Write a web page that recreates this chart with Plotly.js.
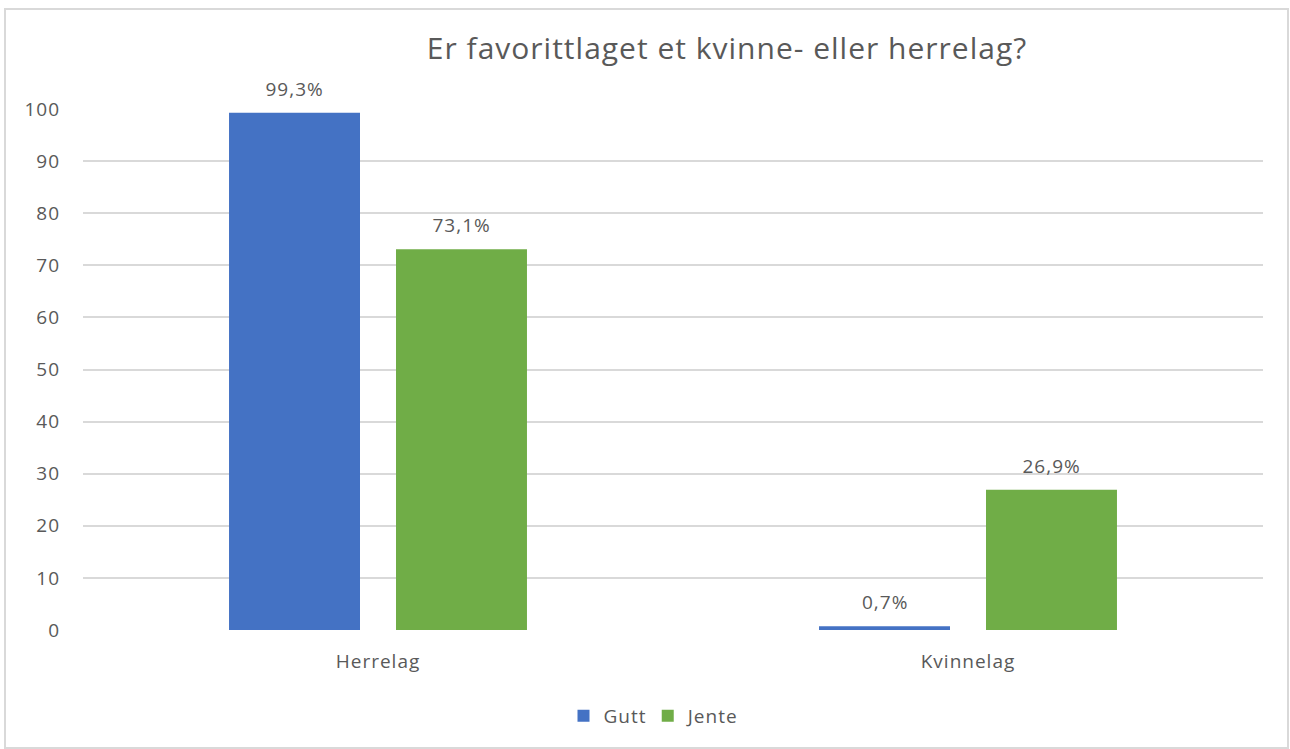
<!DOCTYPE html>
<html>
<head>
<meta charset="utf-8">
<script src="https://cdn.plot.ly/plotly-3.0.1.min.js"></script>
<style>html,body{margin:0;padding:0;background:#fff;}#chart{width:1290px;height:749px;}
#chart text{letter-spacing:1px;}</style>
</head>
<body>
<div id="chart"></div>
<script>
const categories = ["Herrelag", "Kvinnelag"];
const gutt = [99.3, 0.7];
const jente = [73.1, 26.9];
const guttLabels = ["99,3%", "0,7%"];
const jenteLabels = ["73,1%", "26,9%"];
const yTicks = [0, 10, 20, 30, 40, 50, 60, 70, 80, 90, 100];

const fontFam = "'Open Sans', sans-serif";
const txtCol = "#595959";

const traces = [
  {type: "bar", name: "Gutt", x: categories, y: gutt,
   marker: {color: "#4472C4"}, hoverinfo: "none"},
  {type: "bar", name: "Jente", x: categories, y: jente,
   marker: {color: "#70AD47"}, hoverinfo: "none"}
];

const annotations = [];
categories.forEach((c, i) => {
  annotations.push({x: c, y: gutt[i], xref: "x", yref: "y", text: guttLabels[i],
    showarrow: false, xshift: -83.5, yshift: 24, yanchor: "middle",
    font: {family: fontFam, size: 19, color: txtCol}});
  annotations.push({x: c, y: jente[i], xref: "x", yref: "y", text: jenteLabels[i],
    showarrow: false, xshift: 83.5, yshift: 24, yanchor: "middle",
    font: {family: fontFam, size: 19, color: txtCol}});
});

const layout = {
  width: 1290, height: 749,
  margin: {l: 83, r: 27, t: 109, b: 119, autoexpand: false},
  paper_bgcolor: "#fff", plot_bgcolor: "#fff",
  font: {family: fontFam, color: txtCol, size: 16},
  title: {text: "Er favorittlaget et kvinne- eller herrelag?",
          font: {family: fontFam, size: 30, color: txtCol},
          x: 727/1290, xref: "container", xanchor: "center",
          y: 1 - 48/749, yref: "container", yanchor: "middle"},
  barmode: "group", bargap: 0.434, bargroupgap: 0.2156,
  xaxis: {type: "category", showgrid: false, zeroline: false, showline: false,
          ticks: "", ticklabelstandoff: 18, automargin: false,
          tickfont: {family: fontFam, size: 19, color: txtCol}},
  yaxis: {range: [0, 100], tickvals: yTicks, ticktext: yTicks.map(String),
          showgrid: true, gridcolor: "#d9d9d9", gridwidth: 2,
          zeroline: false, showline: false, ticks: "", automargin: false,
          ticklabelstandoff: 22,
          tickfont: {family: fontFam, size: 19, color: txtCol}},
  showlegend: true,
  legend: {orientation: "h", x: (652-83)/1180, xref: "paper", xanchor: "center",
           y: (630-716)/521, yanchor: "middle",
           font: {family: fontFam, size: 19, color: txtCol}, traceorder: "normal"},
  annotations: annotations,
  shapes: [{type: "rect", xref: "paper", yref: "paper",
            x0: (5-83)/1180, x1: (1288-83)/1180, y0: (630-748)/521, y1: (630-9)/521,
            line: {color: "#d9d9d9", width: 2}, fillcolor: "rgba(0,0,0,0)", layer: "below"}]
};

Plotly.newPlot("chart", traces, layout, {displayModeBar: false, staticPlot: true});
</script>
</body>
</html>
